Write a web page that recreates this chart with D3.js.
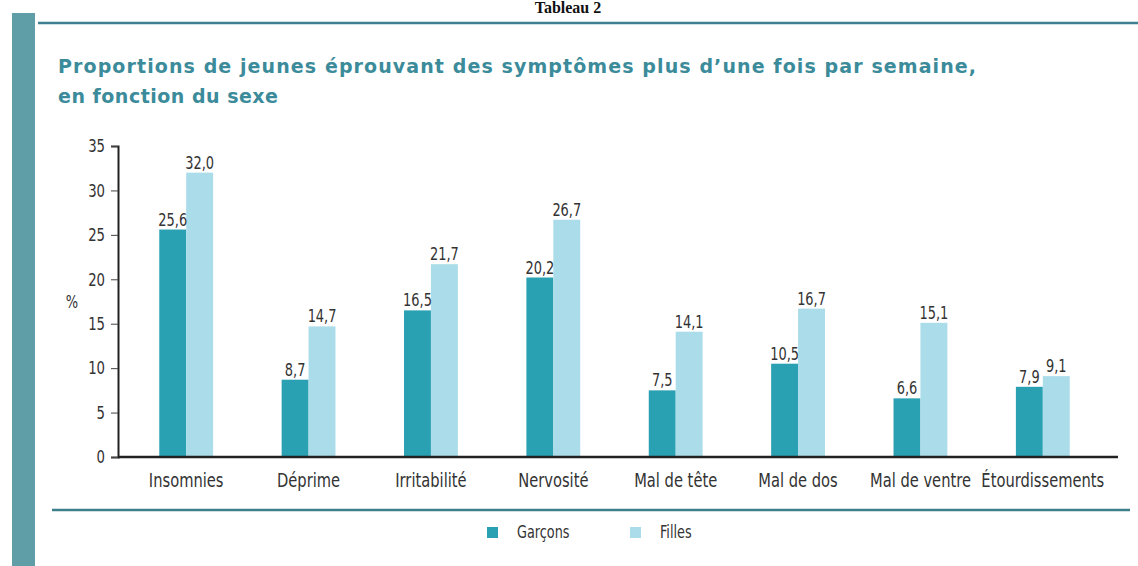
<!DOCTYPE html>
<html>
<head>
<meta charset="utf-8">
<script src="https://cdn.jsdelivr.net/npm/d3@7"></script>
<style>
  body { margin: 0; background: #fff; }
  text { font-family: "DejaVu Sans Condensed", "DejaVu Sans", sans-serif; }
</style>
</head>
<body>
<div id="chart"></div>
<script>
// Data
var categories = ["Insomnies", "Déprime", "Irritabilité", "Nervosité", "Mal de tête", "Mal de dos", "Mal de ventre", "Étourdissements"];
var garcons = [25.6, 8.7, 16.5, 20.2, 7.5, 10.5, 6.6, 7.9];
var filles = [32.0, 14.7, 21.7, 26.7, 14.1, 16.7, 15.1, 9.1];
var seriesNames = ["Garçons", "Filles"];
var yTicks = [0, 5, 10, 15, 20, 25, 30, 35];

var width = 1138, height = 566;
var colors = { "Garçons": "#2aa1b3", "Filles": "#aadcea" };
var fmt = function(v) { return d3.format(".1f")(v).replace(".", ","); };

var svg = d3.select("#chart").append("svg")
    .attr("width", width)
    .attr("height", height);

// Frame: left strip, top rule, bottom rule
svg.append("rect").attr("x", 12).attr("y", 13).attr("width", 23).attr("height", height - 13).attr("fill", "#5f9ea7");
svg.append("line").attr("x1", 38).attr("x2", width).attr("y1", 23).attr("y2", 23)
    .attr("stroke", "#3f8190").attr("stroke-width", 2.5);
svg.append("line").attr("x1", 52).attr("x2", 1130).attr("y1", 510).attr("y2", 510)
    .attr("stroke", "#3f7f8c").attr("stroke-width", 2.5);

// Header above the top rule
svg.append("text").attr("x", 568).attr("y", 13).attr("text-anchor", "middle")
    .style("font-family", "'Liberation Serif', serif").style("font-weight", "bold").style("font-size", "16px")
    .attr("fill", "#111").text("Tableau 2");

// Title
var title = svg.append("g").attr("fill", "#3b8b9a");
title.append("text").attr("x", 58).attr("y", 73)
    .attr("textLength", 918).attr("lengthAdjust", "spacing")
    .style("font-family", "'DejaVu Sans', sans-serif").style("font-weight", "bold").style("font-size", "19px")
    .text("Proportions de jeunes éprouvant des symptômes plus d\u2019une fois par semaine,");
title.append("text").attr("x", 58).attr("y", 103)
    .attr("textLength", 220).attr("lengthAdjust", "spacing")
    .style("font-family", "'DejaVu Sans', sans-serif").style("font-weight", "bold").style("font-size", "19px")
    .text("en fonction du sexe");

// Scales
var x0 = d3.scaleBand().domain(categories).range([125, 1104]).paddingInner(0.56).paddingOuter(0.28);
var x1 = d3.scaleBand().domain(seriesNames).range([0, x0.bandwidth()]);
var y = d3.scaleLinear().domain([0, 35]).range([457, 146]);

// Y axis
var ySx = 0.82;
var yAxis = svg.append("g").attr("transform", "translate(118,0)")
    .call(d3.axisLeft(y).tickValues(yTicks).tickSize(7).tickPadding(6));
yAxis.select(".domain").attr("stroke", "#222").attr("stroke-width", 2);
yAxis.selectAll(".tick line").attr("stroke", "#444");
yAxis.selectAll(".tick text")
    .style("font-family", "'DejaVu Sans Condensed', sans-serif")
    .style("font-size", "18px").attr("fill", "#333")
    .attr("x", -13 / ySx)
    .attr("transform", "scale(" + ySx + ",1)");

svg.append("text").attr("transform", "translate(72,308) scale(0.85,1)").attr("text-anchor", "middle")
    .style("font-size", "17px").attr("fill", "#333").text("%");

// Bars
var groups = svg.append("g").selectAll("g")
    .data(categories)
    .enter().append("g")
    .attr("transform", function(d) { return "translate(" + x0(d) + ",0)"; });

var pairs = function(d, i) { return [{ s: "Garçons", v: garcons[i] }, { s: "Filles", v: filles[i] }]; };

groups.selectAll("rect")
    .data(pairs)
    .enter().append("rect")
    .attr("x", function(d) { return x1(d.s); })
    .attr("y", function(d) { return y(d.v); })
    .attr("width", x1.bandwidth())
    .attr("height", function(d) { return y(0) - y(d.v); })
    .attr("fill", function(d) { return colors[d.s]; });

groups.selectAll("text.val")
    .data(pairs)
    .enter().append("text")
    .attr("class", "val")
    .attr("transform", function(d) {
        return "translate(" + (x1(d.s) + x1.bandwidth() / 2) + "," + (y(d.v) - 4) + ") scale(0.8,1)";
    })
    .attr("text-anchor", "middle")
    .style("font-size", "18px")
    .attr("fill", "#333")
    .text(function(d) { return fmt(d.v); });

// X axis
var xAxis = svg.append("g").attr("transform", "translate(0,457)")
    .call(d3.axisBottom(x0).tickSize(0).tickPadding(17));
xAxis.select(".domain").attr("d", "M118,0H1118").attr("stroke", "#222").attr("stroke-width", 2.5);
xAxis.selectAll(".tick text")
    .style("font-family", "'DejaVu Sans Condensed', sans-serif")
    .style("font-size", "19px").attr("fill", "#333")
    .attr("transform", "scale(0.86,1)");

// Legend
var legendX = [487, 630];
var legend = svg.append("g").selectAll("g")
    .data(seriesNames)
    .enter().append("g")
    .attr("transform", function(d, i) { return "translate(" + legendX[i] + ",527)"; });
legend.append("rect").attr("width", 11).attr("height", 11)
    .attr("fill", function(d) { return colors[d]; });
legend.append("text").attr("transform", "translate(30,11) scale(0.84,1)")
    .style("font-size", "17px").attr("fill", "#333")
    .text(function(d) { return d; });
</script>
</body>
</html>
